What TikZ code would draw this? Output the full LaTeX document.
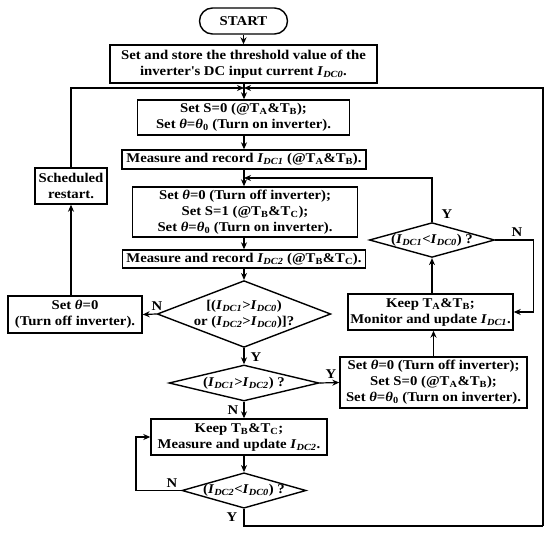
\documentclass[tikz,border=0pt]{standalone}
\usepackage{fontspec}
\setmainfont{Liberation Serif}[FakeStretch=1.1]
\usetikzlibrary{shapes.geometric,arrows.meta}
\newcommand{\Idc}[1]{\textit{I}\textsubscript{\textit{DC#1}}}
\newcommand{\thz}{\textit{θ}}
\begin{document}
\begin{tikzpicture}[x=1pt,y=-1pt,
  txt/.style={font=\bfseries\fontsize{13.4}{16}\selectfont},
  box/.style={draw, line width=1.4pt, align=center, inner sep=0pt, txt},
  dec/.style={diamond, draw, line width=1.4pt, align=center, inner sep=0pt, txt},
  lab/.style={txt, inner sep=0pt},
  arr/.style={line width=1.2pt, -{Stealth[length=7pt,width=6pt]}},
  ln/.style={line width=1.2pt}]
\useasboundingbox (0,0) rectangle (550,533);
\node[box, rounded corners=13pt, minimum width=88pt, minimum height=26pt] (start) at (243.5,21) {START};
\node[box, minimum width=267pt, minimum height=38pt] (thr) at (243.5,64) {Set and store the threshold value of the\\inverter\textquotesingle s DC input current \Idc{0}.};
\node[box, minimum width=212pt, minimum height=35pt] (box1) at (243.5,117.5) {Set S=0 (@T\textsubscript{A}\&T\textsubscript{B});\\Set \thz=\thz\textsubscript{0} (Turn on inverter).};
\node[box, minimum width=244pt, minimum height=19pt] (meas1) at (244,159.5) {Measure and record \Idc{1} (@T\textsubscript{A}\&T\textsubscript{B}).};
\node[box, minimum width=225pt, minimum height=50pt] (box2) at (245,212) {Set \thz=0 (Turn off inverter);\\Set S=1 (@T\textsubscript{B}\&T\textsubscript{C});\\Set \thz=\thz\textsubscript{0} (Turn on inverter).};
\node[box, minimum width=243pt, minimum height=18pt] (meas2) at (244,259) {Measure and record \Idc{2} (@T\textsubscript{B}\&T\textsubscript{C}).};
\node[dec, minimum width=166pt, minimum height=64pt, aspect=2.6] (dia1) at (244,314) {[(\Idc{1}>\Idc{0})\\or (\Idc{2}>\Idc{0})]?};
\node[box, minimum width=134pt, minimum height=37pt] (setoff) at (75,314.5) {Set \thz=0\\(Turn off inverter).};
\node[box, minimum width=72pt, minimum height=36pt] (sched) at (71,186) {Scheduled\\restart.};
\node[dec, minimum width=150pt, minimum height=36pt, aspect=4.2] (dia2) at (244,383) {(\Idc{1}>\Idc{2}) ?};
\node[box, minimum width=187pt, minimum height=51pt] (box3) at (433.5,382.5) {Set \thz=0 (Turn off inverter);\\Set S=0 (@T\textsubscript{A}\&T\textsubscript{B});\\Set \thz=\thz\textsubscript{0} (Turn on inverter).};
\node[box, minimum width=165pt, minimum height=36pt] (keepA) at (430.5,312) {Keep T\textsubscript{A}\&T\textsubscript{B};\\Monitor and update \Idc{1}.};
\node[dec, minimum width=123pt, minimum height=34pt, aspect=3.6] (dc1) at (432,240) {(\Idc{1}<\Idc{0}) ?};
\node[box, minimum width=176pt, minimum height=36pt] (keepB) at (239,437) {Keep T\textsubscript{B}\&T\textsubscript{C};\\Measure and update \Idc{2}.};
\node[dec, minimum width=123pt, minimum height=35pt, aspect=3.5] (dia3) at (244,490.5) {(\Idc{2}<\Idc{0}) ?};
% coordinates
\coordinate (j1) at (244,88);
\coordinate (j2) at (244,178);
\coordinate (br) at (543,526);
\coordinate (tr) at (543,88);
% connectors
\draw[arr] (start) -- (thr);
\draw[arr] (j1 |- thr.south) -- (j1 |- box1.north);
\draw[arr] (sched.north) |- (j1);
\draw[ln] (dia3.south) |- (br);
\draw[arr] (br) -- (tr) -- (j1);
\draw[arr] (j1 |- box1.south) -- (j1 |- meas1.north);
\draw[arr] (j1 |- meas1.south) -- (j1 |- box2.north);
\draw[arr] (dc1.north) |- (j2);
\draw[arr] (j1 |- box2.south) -- (j1 |- meas2.north);
\draw[arr] (j1 |- meas2.south) -- (dia1.north);
\draw[arr] (dia1.west) -- (setoff.east);
\draw[arr] (sched.south |- setoff.north) -- (sched.south);
\draw[arr] (dia1.south) -- (dia2.north);
\draw[arr] (dia2.east) -- (box3.west);
\draw[arr] (dia2.south) -- (dia2.south |- keepB.north);
\draw[arr] (box3.north) -- (box3.north |- keepA.south);
\draw[arr] (dc1.south |- keepA.north) -- (dc1.south);
\draw[arr] (dc1.east) -- ++(38,0) |- (keepA.east);
\draw[arr] (dia3.north |- keepB.south) -- (dia3.north);
\draw[arr] (dia3.west) -- (136,490.5) |- (keepB.west);
% labels
\node[lab] (ly1) at (447,214) {Y};
\node[lab] (ln1) at (517,232) {N};
\node[lab] (ln2) at (157,306) {N};
\node[lab] (ly2) at (256,357) {Y};
\node[lab] (ly3) at (331,374) {Y};
\node[lab] (ln3) at (233,410) {N};
\node[lab] (ln4) at (172,483) {N};
\node[lab] (ly4) at (232,517) {Y};
\end{tikzpicture}
\end{document}
